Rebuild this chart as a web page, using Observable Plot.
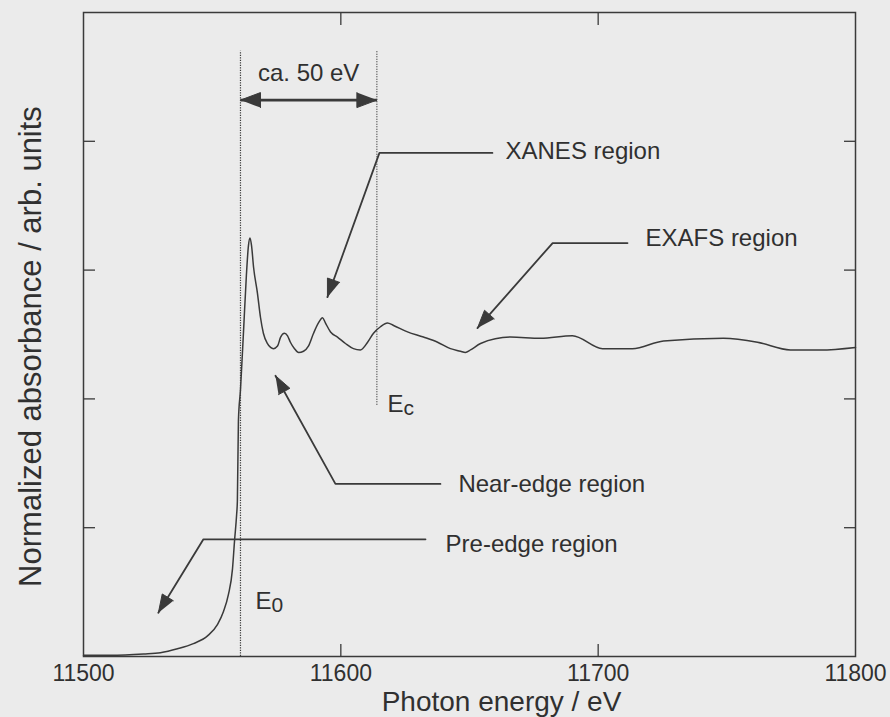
<!DOCTYPE html>
<html>
<head>
<meta charset="utf-8">
<script src="https://cdn.jsdelivr.net/npm/d3@7"></script>
<script src="https://cdn.jsdelivr.net/npm/@observablehq/plot@0.6"></script>
<style>
  html, body { margin: 0; padding: 0; background: #ebebeb; }
  #chart svg { display: block; }
</style>
</head>
<body>
<div id="chart"></div>
<script>
// X-ray absorption spectrum (K-edge), normalized absorbance vs photon energy
const energy = [
  11500, 11510.5, 11523.3, 11529.9, 11536.5, 11542.7, 11548.2, 11552.1, 11554.4, 11556.3,
  11557.9, 11558.7, 11559.5, 11559.8, 11560.2, 11561.0, 11562.2, 11563.3, 11564.1, 11564.7,
  11565.3, 11566.1, 11567.6, 11568.8, 11569.9, 11571.5, 11572.7, 11573.8, 11575.4, 11576.6,
  11578.1, 11579.3, 11580.4, 11582.0, 11583.6, 11585.5, 11587.4, 11589.4, 11591.3, 11592.9,
  11594.0, 11596.0, 11598.7, 11601.8, 11604.9, 11607.6, 11610.4, 11612.7, 11615.4, 11618.1,
  11620.5, 11625.9, 11632.1, 11637.6, 11642.6, 11646.5, 11648.4, 11650.4, 11654.3, 11665.9,
  11677.6, 11690.0, 11701.7, 11713.3, 11725.4, 11748.7, 11761.9, 11774.7, 11786.4, 11800
];
const absorbance = [
  0.01, 0.01, 0.02, 0.03, 0.06, 0.10, 0.16, 0.25, 0.35, 0.48,
  0.68, 0.90, 1.10, 1.21, 1.83, 2.07, 2.53, 2.96, 3.19, 3.25,
  3.19, 3.02, 2.82, 2.63, 2.51, 2.43, 2.40, 2.39, 2.41, 2.48,
  2.51, 2.49, 2.44, 2.39, 2.36, 2.37, 2.41, 2.51, 2.59, 2.63,
  2.59, 2.52, 2.48, 2.43, 2.39, 2.38, 2.44, 2.51, 2.56, 2.59,
  2.57, 2.52, 2.48, 2.44, 2.39, 2.37, 2.36, 2.38, 2.43, 2.48,
  2.47, 2.49, 2.39, 2.39, 2.45, 2.47, 2.44, 2.38, 2.38, 2.40
];

// axis ticks
const xTickLabels = [11500, 11600, 11700, 11800];
const xTickMarks = [11600, 11700];
const yTickMarks = [1, 2, 3, 4];

// edge energy E0 and XANES/EXAFS boundary Ec
const E0 = 11561;
const Ec = 11614;
const markerTop = 4.7;
const EcBottom = 1.95;
const spanY = 4.32;
const spanText = "ca. 50 eV";
const spanTextY = 4.53;
const edgeNames = ["E", "E"];
const edgeSubs = ["0", "c"];
const edgeNameX = [11566.8, 11618.1];
const edgeNameY = [0.43, 1.96];

// callouts: text, text anchor, elbow, arrow tip
const calloutText = ["XANES region", "EXAFS region", "Near-edge region", "Pre-edge region"];
const calloutTextX = [11664.0, 11718.4, 11645.7, 11640.7];
const calloutTextY = [3.92, 3.25, 1.34, 0.87];
const calloutStartX = [11658.9, 11711.4, 11638.7, 11632.9];
const calloutElbowX = [11615.0, 11682.3, 11597.9, 11546.6];
const calloutElbowY = [3.91, 3.21, 1.34, 0.91];
const calloutTipX = [11594.8, 11653.1, 11574.6, 11529.1];
const calloutTipY = [2.79, 2.55, 2.18, 0.34];

const xTitle = "Photon energy / eV";
const yTitle = "Normalized absorbance / arb. units";

// layout
const W = 890, H = 717;
const mL = 83, mR = 35, mT = 12, mB = 61;
const xDomain = [11500, 11800];
const yDomain = [0, 5];
const ink = "#3a3a3a";
const textInk = "#303030";
const font = "'Liberation Sans', Arial, Helvetica, sans-serif";

const spectrum = energy.map((e, i) => ({e, a: absorbance[i]}));

const leaders = calloutText.flatMap((t, i) => [
  {k: i, x: calloutStartX[i], y: calloutElbowY[i]},
  {k: i, x: calloutElbowX[i], y: calloutElbowY[i]},
  {k: i, x: calloutTipX[i], y: calloutTipY[i]}
]);

// filled triangular arrowheads, shaped in screen space with the chart's own scales
const xs = Plot.scale({x: {domain: xDomain, range: [mL, W - mR]}});
const ys = Plot.scale({y: {domain: yDomain, range: [H - mB, mT]}});
function head(k, tipX, tipY, fromX, fromY, len, half) {
  const tx = xs.apply(tipX), ty = ys.apply(tipY);
  let ux = tx - xs.apply(fromX), uy = ty - ys.apply(fromY);
  const n = Math.hypot(ux, uy);
  ux /= n; uy /= n;
  const bx = tx - ux * len, by = ty - uy * len;
  return [
    [tx, ty],
    [bx - uy * half, by + ux * half],
    [bx + uy * half, by - ux * half]
  ].map(([px, py]) => ({k, x: xs.invert(px), y: ys.invert(py)}));
}
const heads = [
  ...calloutText.flatMap((t, i) => head(i, calloutTipX[i], calloutTipY[i], calloutElbowX[i], calloutElbowY[i], 18, 6.5)),
  ...head("left", E0, spanY, Ec, spanY, 20, 7.5),
  ...head("right", Ec, spanY, E0, spanY, 20, 7.5)
];

const callouts = calloutText.map((t, i) => ({t, x: calloutTextX[i], y: calloutTextY[i]}));
const edges = edgeNames.map((n, i) => ({n, s: edgeSubs[i], x: edgeNameX[i], y: edgeNameY[i]}));

const chart = Plot.plot({
  width: W,
  height: H,
  marginLeft: mL,
  marginRight: mR,
  marginTop: mT,
  marginBottom: mB,
  style: {background: "#ebebeb", fontFamily: font, color: textInk},
  x: {domain: xDomain, axis: null, label: null},
  y: {domain: yDomain, axis: null, label: null},
  marks: [
    // inward tick marks on all four sides
    Plot.axisX(xTickMarks, {anchor: "bottom", tickSize: -12, fill: "none", stroke: ink, strokeWidth: 1.3, label: null}),
    Plot.axisX(xTickMarks, {anchor: "top", tickSize: -12, fill: "none", stroke: ink, strokeWidth: 1.3, label: null}),
    Plot.axisY(yTickMarks, {anchor: "left", tickSize: -12, fill: "none", stroke: ink, strokeWidth: 1.3, label: null}),
    Plot.axisY(yTickMarks, {anchor: "right", tickSize: -12, fill: "none", stroke: ink, strokeWidth: 1.3, label: null}),
    Plot.axisX(xTickLabels, {anchor: "bottom", tickSize: 0, tickPadding: 8, fontSize: 23, fill: textInk, label: null, tickFormat: d => String(d)}),

    // E0 and Ec markers
    Plot.ruleX([E0], {x: d => d, y1: 0, y2: markerTop, stroke: ink, strokeWidth: 1.2, strokeDasharray: "1.2,1.3"}),
    Plot.ruleX([Ec], {x: d => d, y1: EcBottom, y2: markerTop, stroke: ink, strokeWidth: 1.2, strokeDasharray: "1.2,1.3"}),

    // spectrum
    Plot.line(spectrum, {x: "e", y: "a", stroke: ink, strokeWidth: 1.5, curve: "monotone-x"}),

    // span arrow
    Plot.link([{x1: E0, x2: Ec, y: spanY}], {x1: "x1", x2: "x2", y1: "y", y2: "y", stroke: ink, strokeWidth: 2.6}),
    Plot.text([spanText], {x: (E0 + Ec) / 2, y: spanTextY, text: d => d, fontSize: 24, fill: textInk}),

    // callout leaders and heads
    Plot.line(leaders, {x: "x", y: "y", z: "k", stroke: ink, strokeWidth: 1.8}),
    Plot.line(heads, {x: "x", y: "y", z: "k", fill: ink, stroke: ink, strokeWidth: 1, strokeLinejoin: "miter"}),
    Plot.text(callouts, {x: "x", y: "y", text: "t", textAnchor: "start", fontSize: 24, fill: textInk}),

    // E0 / Ec labels
    Plot.text(edges, {x: "x", y: "y", text: "n", textAnchor: "start", fontSize: 24, fill: textInk}),
    Plot.text(edges, {x: "x", y: "y", text: "s", textAnchor: "start", fontSize: 21, dx: 16, dy: 4, fill: textInk}),

    // axis titles
    Plot.text([xTitle], {frameAnchor: "bottom", text: d => d, textAnchor: "middle", dx: 32, dy: 54.5, lineAnchor: "bottom", fontSize: 28, fill: textInk}),
    Plot.text([yTitle], {frameAnchor: "left", text: d => d, textAnchor: "middle", rotate: -90, dx: -52, dy: 12, fontSize: 31, fill: textInk}),

    Plot.frame({stroke: ink, strokeWidth: 1.5})
  ]
});

document.getElementById("chart").appendChild(chart);
</script>
</body>
</html>
